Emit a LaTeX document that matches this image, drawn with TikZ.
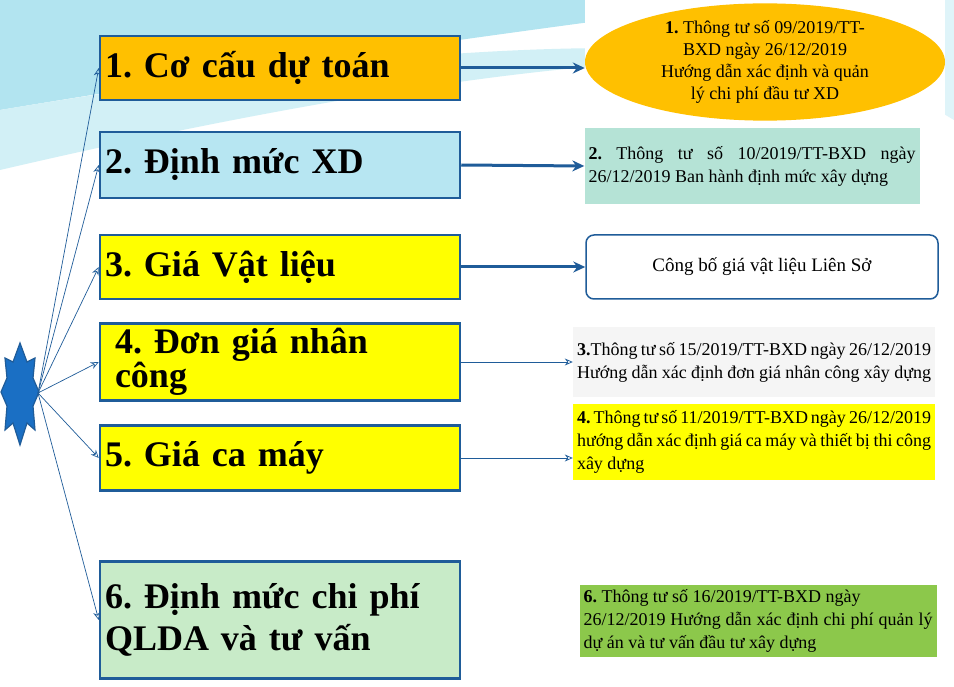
\documentclass[tikz,border=0pt]{standalone}
\usepackage{fontspec}
\setmainfont{Liberation Serif}
\frenchspacing
\usetikzlibrary{shapes.geometric,arrows.meta}
\definecolor{bord}{HTML}{1F5C99}
\definecolor{orng}{HTML}{FFC000}
\definecolor{cyanl}{HTML}{B7E6F2}
\definecolor{yel}{HTML}{FFFF00}
\definecolor{grn}{HTML}{C8EBC8}
\definecolor{teal2}{HTML}{B5E3D6}
\definecolor{grn2}{HTML}{8CC84B}
\definecolor{sky}{HTML}{7FD3E6}
\definecolor{starc}{HTML}{1A6FC4}
\tikzset{
 lbox/.style={draw=bord,line width=2.5pt,minimum width=360pt,text width=350pt,align=left,inner sep=5pt,font=\bfseries\fontsize{36}{36}\selectfont},
 rtext/.style={text width=#1,align=justify,inner sep=4pt,font=\fontsize{18}{23}\selectfont},
 thin/.style={draw=bord,line width=0.7pt,-{Stealth[length=8pt,width=7pt,open]}},
 thick/.style={draw=bord,line width=3pt,-{Stealth[length=12pt,width=11pt]}}
}
\begin{document}
\begin{tikzpicture}[x=1pt,y=-1pt]
\useasboundingbox (0,0) rectangle (954,687);
\fill[white] (0,0) rectangle (954,687);
% background swooshes
\fill[sky!60] (0,0) -- (760,0) .. controls (600,20) and (300,60) .. (0,110) -- cycle;
\fill[sky!35] (0,110) .. controls (300,60) and (600,30) .. (800,60) .. controls (600,50) and (300,100) .. (0,170) -- cycle;
\fill[sky!25] (700,0) .. controls (760,20) and (820,40) .. (954,120) -- (954,0) -- cycle;
% star
\draw[fill=starc,draw=bord,line width=1.2pt,line join=miter] (20,343) -- (27,362) -- (35,358) -- (33,378) -- (39,392) -- (33,406) -- (35,430) -- (27,423) -- (20,445) -- (13,423) -- (5,430) -- (7,406) -- (1,392) -- (7,378) -- (5,358) -- (13,362) -- cycle;
\coordinate (sc) at (38,393);
% left boxes
\node[lbox,fill=orng,minimum height=64pt] (b1) at (280,68) {1. Cơ cấu dự toán};
\node[lbox,fill=cyanl,minimum height=66pt] (b2) at (280,165) {2. Định mức XD};
\node[lbox,fill=yel,minimum height=64pt] (b3) at (280,267) {3. Giá Vật liệu};
\node[lbox,fill=yel,minimum height=65pt,text width=330pt,font=\bfseries\fontsize{36}{34}\selectfont] (b4) at (280,362) {4. Đơn giá nhân công};
\node[lbox,fill=yel,minimum height=65pt] (b5) at (280,458) {5. Giá ca máy};
\node[lbox,fill=grn,minimum height=117pt,font=\bfseries\fontsize{36}{42}\selectfont] (b6) at (280,620) {6. Định mức chi phí QLDA và tư vấn};
\foreach \b in {b1,b2,b3,b4,b5,b6} \draw[thin] (sc) -- (\b.west);
% right items
\fill[white] (585,0) rectangle (945,115);
\node[ellipse,fill=orng,minimum width=360pt,minimum height=108pt,align=center,inner sep=0pt,font=\fontsize{18}{22}\selectfont] (r1) at (765,62) {\textbf{1.} Thông tư số 09/2019/TT-\\BXD ngày 26/12/2019\\Hướng dẫn xác định và quản\\lý chi phí đầu tư XD};
\node[rtext=327pt,fill=teal2,minimum height=76pt] (r2) at (752,166) {\textbf{2.} Thông tư số 10/2019/TT-BXD ngày 26/12/2019 Ban hành định mức xây dựng};
\node[draw=bord,line width=1.5pt,rounded corners=8pt,fill=white,minimum width=352pt,minimum height=64pt,font=\fontsize{19}{22}\selectfont] (r3) at (762,267) {Công bố giá vật liệu Liên Sở};
\node[rtext=354pt,fill=gray!8,minimum height=70pt] (r4) at (754,362) {\textbf{3.}Thông tư số 15/2019/TT-BXD ngày 26/12/2019 Hướng dẫn xác định đơn giá nhân công xây dựng};
\node[rtext=354pt,fill=yel,minimum height=76pt] (r5) at (754,442) {\textbf{4.} Thông tư số 11/2019/TT-BXD ngày 26/12/2019 hướng dẫn xác định giá ca máy và thiết bị thi công xây dựng};
\node[rtext=349pt,fill=grn2,minimum height=72pt] (r6) at (758,621) {\textbf{6.} Thông tư số 16/2019/TT-BXD ngày\\26/12/2019 Hướng dẫn xác định chi phí quản lý dự án và tư vấn đầu tư xây dựng};
\draw[thick] (b1.east) -- (b1.east -| r1.west);
\draw[thick] (b2.east) -- (r2.west);
\draw[thick] (b3.east) -- (r3.west);
\draw[thin] (b4.east) -- (r4.west);
\draw[thin] (b5.east) -- (b5.east -| r5.west);
\end{tikzpicture}
\end{document}
